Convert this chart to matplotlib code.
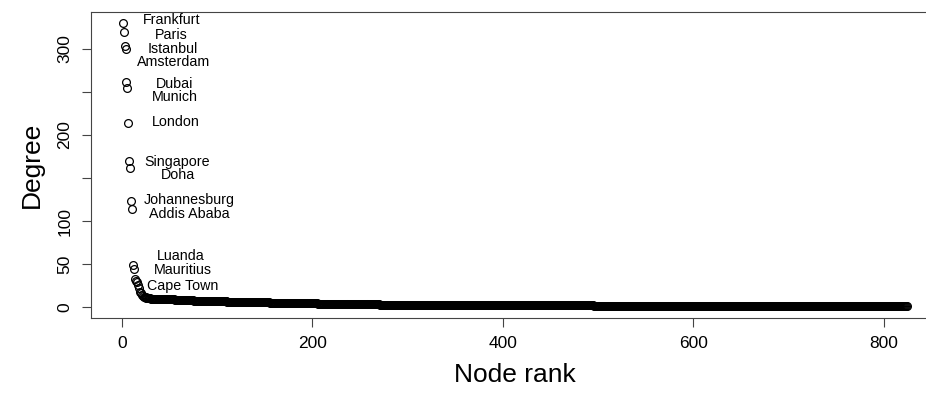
import numpy as np
import matplotlib
matplotlib.use('agg')
import matplotlib.pyplot as plt

plt.rcParams['font.family'] = ['Liberation Sans', 'DejaVu Sans']

# highest-degree airports, in rank order
hub_names = ['Frankfurt', 'Paris', 'Istanbul', 'Amsterdam', 'Dubai', 'Munich',
             'London', 'Singapore', 'Doha', 'Johannesburg', 'Addis Ababa',
             'Luanda', 'Mauritius', 'Cape Town']
top_degrees = [330, 319, 303, 300, 261, 254, 214, 170, 161, 123, 114,
               49, 44, 33, 31, 29, 26, 22, 18]

# remaining nodes: degree and how many nodes share it
tail_degree = [16, 14, 13, 12, 11, 10, 9, 8, 7, 6, 5, 4, 3, 2, 1]
tail_count = [1, 1, 1, 3, 5, 10, 15, 20, 35, 45, 50, 65, 85, 140, 329]

# where each hub name sits relative to its point (x shift in ranks, y in degree)
label_dx = [51, 50, 51, 50, 50, 50, 50, 50, 50, 61, 60, 50, 51, 50]
label_y = [333, 316, 300, 285, 259.5, 244, 215, 169, 153, 124, 108, 60, 43, 25]

degree = np.concatenate([top_degrees, np.repeat(tail_degree, tail_count)])
rank = np.arange(1, len(degree) + 1)

fig = plt.figure(figsize=(9.26, 3.94), dpi=100)
ax = fig.add_axes([91.3 / 926, (394 - 317.7) / 394,
                   (938 - 91.3) / 926, (317.7 - 11.5) / 394])

ax.plot(rank, degree, 'o', mfc='none', mec='black', ms=5.6, mew=0.9)

for i, name in enumerate(hub_names):
    ax.text(rank[i] + label_dx[i], label_y[i], name, ha='center', va='center',
            fontsize=10.3)

# R-style 4% padding around the data range
xr = rank.max() - rank.min()
yr = degree.max() - degree.min()
ax.set_xlim(rank.min() - 0.04 * xr, rank.max() + 0.04 * xr)
ax.set_ylim(degree.min() - 0.04 * yr, degree.max() + 0.04 * yr)

ax.set_xticks([0, 200, 400, 600, 800])
ax.set_yticks([0, 50, 100, 150, 200, 250, 300])
ax.set_yticklabels(['0', '50', '100', '', '200', '', '300'],
                   rotation=90, va='center')
ax.tick_params(length=6.5, width=0.8, color='#444444', labelsize=12.5, pad=7)
for s in ax.spines.values():
    s.set_color('#444444')
    s.set_linewidth(0.8)

ax.set_xlabel('Node rank', fontsize=19, labelpad=8)
ax.set_ylabel('Degree', fontsize=19, labelpad=10)

fig.savefig('out.png', dpi=100)
